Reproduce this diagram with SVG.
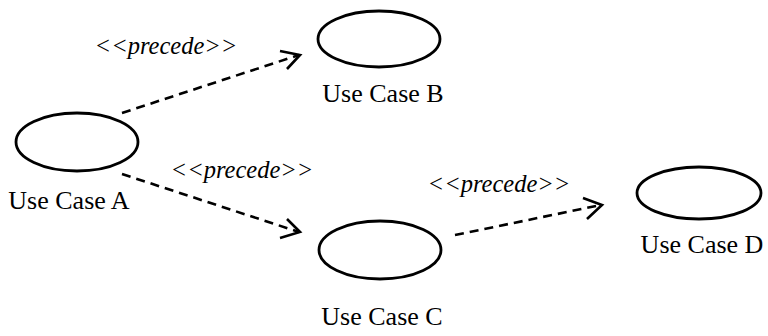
<svg xmlns="http://www.w3.org/2000/svg" width="768" height="336" viewBox="0 0 768 336">
<style>
.uc{fill:#fff;stroke:#000;stroke-width:2.8}
.lbl{font-family:"Liberation Serif",serif;font-size:26px;fill:#000;text-anchor:middle}
.st{font-family:"Liberation Serif",serif;font-size:24.5px;font-style:italic;fill:#000;text-anchor:middle}
.dep{fill:none;stroke:#000;stroke-width:2.6;stroke-dasharray:9,6}
.ah{fill:none;stroke:#000;stroke-width:2.6}
</style>
<rect width="768" height="336" fill="#fff"/>
<g id="connectors">
<g id="e1"><line class="dep" x1="122" y1="113" x2="299" y2="55"/><polyline class="ah" points="280,51 300,55 287,69"/></g>
<g id="e2"><line class="dep" x1="122" y1="174" x2="299" y2="232"/><polyline class="ah" points="287,219 300,232 280,238"/></g>
<g id="e3"><line class="dep" x1="455" y1="235" x2="601" y2="205"/><polyline class="ah" points="583,198 602,205 587,219"/></g>
<text class="st" x="166" y="54">&lt;&lt;precede&gt;&gt;</text>
<text class="st" x="242" y="178">&lt;&lt;precede&gt;&gt;</text>
<text class="st" x="499" y="192">&lt;&lt;precede&gt;&gt;</text>
</g>
<g id="A"><ellipse class="uc" cx="77" cy="142" rx="61" ry="29"/><text class="lbl" x="69" y="209">Use Case A</text></g>
<g id="B"><ellipse class="uc" cx="379" cy="39" rx="61" ry="28"/><text class="lbl" x="383" y="102">Use Case B</text></g>
<g id="C"><ellipse class="uc" cx="380" cy="250" rx="61" ry="29"/><text class="lbl" x="382" y="325">Use Case C</text></g>
<g id="D"><ellipse class="uc" cx="699" cy="193" rx="62" ry="26"/><text class="lbl" x="702" y="253">Use Case D</text></g>
</svg>
